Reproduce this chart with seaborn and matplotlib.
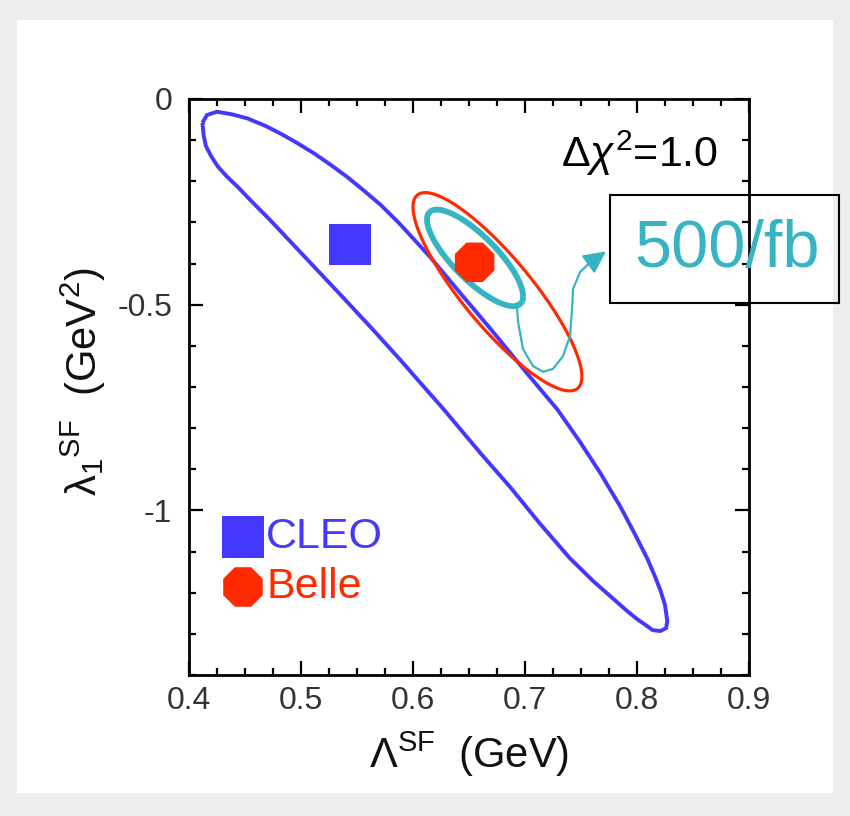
import numpy as np
import pandas as pd
import matplotlib
matplotlib.use("Agg")
import matplotlib.pyplot as plt
import seaborn as sns
from matplotlib.patches import Rectangle
from matplotlib.ticker import MultipleLocator

sns.set_theme(style="ticks")
plt.rcParams["font.family"] = ["Liberation Sans", "DejaVu Sans"]
plt.rcParams["mathtext.fontset"] = "custom"
plt.rcParams["mathtext.rm"] = "Liberation Sans"
plt.rcParams["mathtext.it"] = "Liberation Sans:italic"
plt.rcParams["mathtext.bf"] = "Liberation Sans:bold"
plt.rcParams.update({"xtick.major.pad": 8, "ytick.major.pad": 12,
                     "lines.solid_capstyle": "butt"})

# ---------------- data ----------------
# CLEO delta-chi2 = 1 contour
cleo_x = [0.412, 0.416, 0.425, 0.438, 0.452, 0.468, 0.481, 0.496, 0.511, 0.526,
          0.541, 0.555, 0.571, 0.588, 0.615, 0.642, 0.669, 0.704, 0.729, 0.749,
          0.767, 0.785, 0.798, 0.809, 0.816, 0.821, 0.825, 0.827, 0.826, 0.821,
          0.814, 0.809, 0.800, 0.791, 0.776, 0.761, 0.740, 0.713, 0.687, 0.660,
          0.627, 0.606, 0.588, 0.562, 0.535, 0.508, 0.472, 0.4545, 0.444, 0.434,
          0.426, 0.420, 0.415, 0.413, 0.412]
cleo_y = [-0.058, -0.039, -0.031, -0.037, -0.047, -0.065, -0.083, -0.106, -0.131, -0.159,
          -0.189, -0.220, -0.257, -0.303, -0.383, -0.471, -0.558, -0.674, -0.755, -0.833,
          -0.908, -0.990, -1.057, -1.116, -1.160, -1.195, -1.230, -1.269, -1.286, -1.293,
          -1.291, -1.281, -1.264, -1.244, -1.208, -1.172, -1.116, -1.031, -0.944, -0.860,
          -0.753, -0.688, -0.632, -0.554, -0.475, -0.397, -0.293, -0.245, -0.215, -0.189,
          -0.165, -0.140, -0.114, -0.087, -0.058]

# central values
cleo_point = (0.544, -0.354)
belle_point = (0.655, -0.397)

# Belle and 500/fb ellipses: centre, sigma_x, sigma_y, correlation
belle_ell = dict(cx=0.6754, cy=-0.4685, sx=0.0754, sy=0.241, rho=-0.855)
proj_ell = dict(cx=0.6554, cy=-0.3862, sx=0.0429, sy=0.1174, rho=-0.794)

# hand-drawn arrow path to the "500/fb" box
arrow_x = [0.6926, 0.6938, 0.6982, 0.7071, 0.7161, 0.7250, 0.7339, 0.7402, 0.7420,
           0.7429, 0.7491, 0.7563]
arrow_y = [-0.494, -0.542, -0.608, -0.649, -0.663, -0.656, -0.625, -0.576, -0.511,
           -0.462, -0.421, -0.402]
arrow_tip = (0.7723, -0.3705)

x_ticks = [0.4, 0.5, 0.6, 0.7, 0.8, 0.9]
x_ticklabels = ["0.4", "0.5", "0.6", "0.7", "0.8", "0.9"]
y_ticks = [0, -0.5, -1]
y_ticklabels = ["0", "-0.5", "-1"]

BLUE = "#4438ff"
RED = "#ff2a00"
CYAN = "#36b4c4"

def ellipse_frame(p, n=240):
    t = np.linspace(0, 2 * np.pi, n)
    x = p["cx"] + p["sx"] * np.cos(t)
    y = p["cy"] + p["sy"] * (p["rho"] * np.cos(t) + np.sqrt(1 - p["rho"] ** 2) * np.sin(t))
    return pd.DataFrame({"x": x, "y": y})

# ---------------- figure ----------------
fig = plt.figure(figsize=(8.5, 8.16), dpi=100, facecolor="#eeeeee")
fig.patches.append(Rectangle((17 / 850, 1 - 793 / 816), 816 / 850, 773 / 816,
                             transform=fig.transFigure, facecolor="white",
                             edgecolor="none", zorder=-10))
ax = fig.add_axes([189 / 850, 1 - 675 / 816, 560 / 850, 576 / 816])
ax.set_facecolor("white")

cleo_df = pd.DataFrame({"x": cleo_x, "y": cleo_y})
sns.lineplot(data=cleo_df, x="x", y="y", sort=False, estimator=None, color=BLUE,
             lw=2.8, ax=ax)
sns.lineplot(data=ellipse_frame(belle_ell), x="x", y="y", sort=False, estimator=None,
             color=RED, lw=2.3, ax=ax)
sns.lineplot(data=ellipse_frame(proj_ell), x="x", y="y", sort=False, estimator=None,
             color=CYAN, lw=4.2, ax=ax)
sns.lineplot(x=arrow_x, y=arrow_y, sort=False, estimator=None, color=CYAN, lw=1.6, ax=ax)
ax.annotate("", xy=arrow_tip, xytext=(arrow_x[-1], arrow_y[-1]),
            arrowprops=dict(arrowstyle="-|>,head_length=0.9,head_width=0.45",
                            color=CYAN, lw=1.6, shrinkA=0, shrinkB=0,
                            mutation_scale=15))

sns.scatterplot(x=[cleo_point[0]], y=[cleo_point[1]], marker="s", s=900, color=BLUE,
                edgecolor="none", ax=ax, zorder=6)
sns.scatterplot(x=[belle_point[0]], y=[belle_point[1]], marker="8", s=950, color=RED,
                edgecolor="none", ax=ax, zorder=6)

# legend drawn by hand
ax.scatter([0.0964], [0.2396], marker="s", s=900, color=BLUE, edgecolor="none",
           transform=ax.transAxes, clip_on=False, zorder=6)
ax.scatter([0.0964], [0.1528], marker="8", s=950, color=RED, edgecolor="none",
           transform=ax.transAxes, clip_on=False, zorder=6)
ax.text(0.138, 0.2396, "CLEO", color=BLUE, fontsize=31, va="center", ha="left",
        transform=ax.transAxes)
ax.text(0.138, 0.1528, "Belle", color=RED, fontsize=31, va="center", ha="left",
        transform=ax.transAxes)

ax.text(0.945, 0.905, r"$\mathrm{\Delta}\chi^2$=1.0", fontsize=31, ha="right",
        va="center", transform=ax.transAxes, color="black")

# axes styling
ax.set_xlim(0.4, 0.9)
ax.set_ylim(-1.4, 0)
ax.set_xticks(x_ticks, labels=x_ticklabels)
ax.set_yticks(y_ticks, labels=y_ticklabels)
ax.xaxis.set_minor_locator(MultipleLocator(0.025))
ax.yaxis.set_minor_locator(MultipleLocator(0.1))
ax.tick_params(which="both", direction="in", top=True, right=True, bottom=True,
               left=True, color="black", width=1.6)
ax.tick_params(which="major", length=10)
ax.tick_params(which="minor", length=5)
ax.tick_params(which="major", labelsize=23, labelcolor="#333333")
for s in ax.spines.values():
    s.set_visible(True)
    s.set_color("black")
    s.set_linewidth(2.0)

ax.set_xlabel(r"$\mathrm{\Lambda}^{\mathrm{SF}}$  (GeV)", fontsize=30, color="#111111")
ax.set_ylabel(r"$\mathrm{\lambda}_1{}^{\mathrm{SF}}$  (GeV$^2$)", fontsize=30,
              color="#111111")
ax.xaxis.set_label_coords(0.5, -0.095)
ax.yaxis.set_label_coords(-0.145, 0.51)

# "500/fb" box
fig.add_artist(Rectangle((610 / 850, 1 - 303 / 816), (839 - 610) / 850, 108 / 816,
                         transform=fig.transFigure, fill=False, edgecolor="black",
                         lw=1.5, zorder=5))
fig.text(727 / 850, 1 - 250 / 816, "500/fb", color=CYAN, fontsize=48,
         ha="center", va="center", zorder=6)

fig.savefig("out.png", dpi=100, facecolor=fig.get_facecolor())
